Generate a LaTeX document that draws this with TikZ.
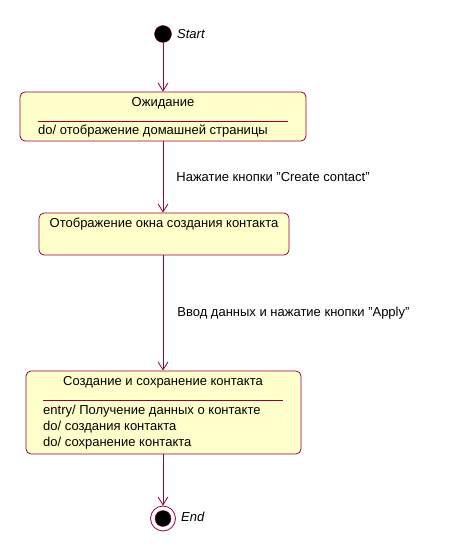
\documentclass[tikz,border=0pt]{standalone}
\usepackage{fontspec}
\setmainfont{Liberation Sans}
\usetikzlibrary{positioning, arrows.meta}
\definecolor{umlred}{RGB}{153,0,51}
\definecolor{umlfill}{RGB}{255,255,204}

\begin{document}
\begin{tikzpicture}[
        x=1pt, y=-1pt,
        font=\fontsize{13}{15}\selectfont,
        >={Straight Barb[length=8pt, width=10pt]},
        trans/.style={->, draw=umlred, line width=0.8pt},
        state/.style={draw=umlred, fill=umlfill, rounded corners=5pt, line width=0.8pt, inner sep=0pt},
        initial/.style={circle, draw=umlred, fill=black, minimum size=17pt, inner sep=0pt},
        final/.style={circle, draw=umlred, fill=white, minimum size=25pt, inner sep=0pt, line width=0.8pt},
        title/.style={inner sep=0pt},
        action/.style={anchor=west, inner sep=0pt},
        sep/.style={draw=umlred, line width=0.8pt},
    ]
        \useasboundingbox (0,0) rectangle (450,559);

        % Draw the start state
        \node[initial] (start) at (163,34) {};
        \node[action, font=\fontsize{13}{15}\selectfont\itshape] (start-name) at (177,34) {Start};

        % Draw the states
        \node[state, minimum width=286pt, minimum height=49pt] (wait) at (163,116.5) {};
        \node[title] (wait-title) at (163,103) {Ожидание};
        \draw[sep] (38,121) -- (288,121);
        \node[action] (wait-do) at (38,131) {do/ отображение домашней страницы};

        \node[state, minimum width=250pt, minimum height=42pt] (show) at (164,234) {};
        \node[title] (show-title) at (164,224) {Отображение окна создания контакта};

        \node[state, minimum width=275pt, minimum height=83pt] (save) at (163.5,412.5) {};
        \node[title] (save-title) at (163,382) {Создание и сохранение контакта};
        \draw[sep] (43,400) -- (283,400);
        \node[action] (save-entry) at (43,411) {entry/ Получение данных о контакте};
        \node[action] (save-do1) at (43,427) {do/ создания контакта};
        \node[action] (save-do2) at (43,443) {do/ сохранение контакта};

        % Draw the end state
        \node[final] (end) at (163,518.5) {};
        \node[circle, fill=black, draw=umlred, minimum size=16pt, inner sep=0pt] (end-dot) at (163,518.5) {};
        \node[action, font=\fontsize{13}{15}\selectfont\itshape] (end-name) at (181,517) {End};

        % Connect the states
        \draw[trans] (start) -- (start |- wait.north);
        \draw[trans] (wait.south -| start) -- node[midway, right, xshift=13pt, inner sep=0pt] {Нажатие кнопки "Create contact"} (show.north -| start);
        \draw[trans] (show.south -| start) -- node[midway, right, xshift=14pt, inner sep=0pt] {Ввод данных и нажатие кнопки "Apply"} (save.north -| start);
        \draw[trans] (save.south -| start) -- (end);
    \end{tikzpicture}
\end{document}
